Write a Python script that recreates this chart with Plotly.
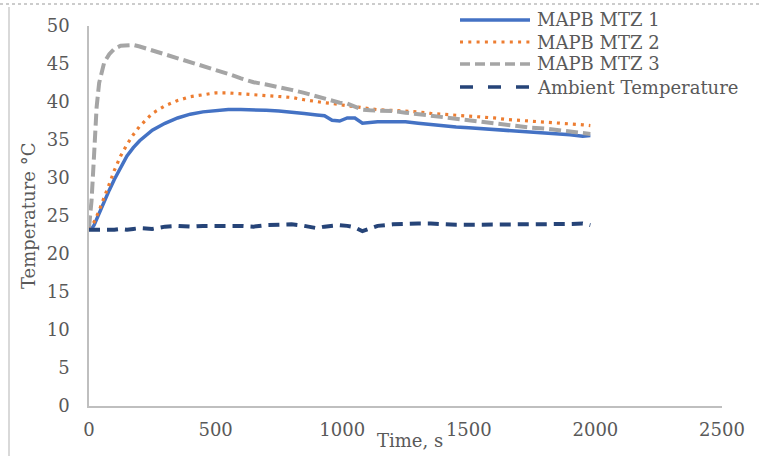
import plotly.graph_objects as go

# Time axis (s)
time_s = [0, 10, 20, 30, 40, 50, 60, 80, 100, 125, 150, 175, 200, 250, 300, 350, 400, 450,
          500, 550, 600, 650, 700, 750, 800, 850, 900, 930, 960, 990, 1020, 1050, 1080,
          1110, 1140, 1200, 1250, 1300, 1350, 1400, 1450, 1500, 1550, 1600, 1650, 1700,
          1750, 1800, 1850, 1900, 1950, 1980]

mtz1 = [23.2, 23.3, 23.8, 24.6, 25.4, 26.2, 27.0, 28.4, 29.8, 31.4, 32.9, 34.0, 34.9, 36.3,
        37.2, 37.9, 38.4, 38.7, 38.9, 39.0, 39.0, 39.0, 38.9, 38.8, 38.7, 38.5, 38.3, 38.2,
        37.6, 37.5, 37.9, 37.9, 37.2, 37.3, 37.4, 37.4, 37.4, 37.2, 37.0, 36.9, 36.7, 36.6,
        36.5, 36.4, 36.3, 36.2, 36.0, 35.9, 35.8, 35.7, 35.5, 35.6]

mtz2 = [23.2, 23.6, 24.2, 24.9, 25.7, 26.6, 27.4, 29.2, 31.0, 32.9, 34.4, 35.7, 36.8, 38.5,
        39.5, 40.2, 40.7, 41.0, 41.2, 41.2, 41.1, 41.0, 40.9, 40.8, 40.6, 40.3, 40.0, 39.9,
        39.8, 39.6, 39.5, 39.4, 39.2, 39.1, 39.0, 38.9, 38.8, 38.7, 38.5, 38.4, 38.3, 38.1,
        38.0, 37.9, 37.7, 37.6, 37.5, 37.3, 37.2, 37.1, 37.0, 36.9]

mtz3 = [23.5, 27.0, 33.0, 39.3, 42.5, 44.0, 45.2, 46.3, 47.0, 47.4, 47.5, 47.5, 47.3, 46.8,
        46.3, 45.8, 45.3, 44.8, 44.3, 43.7, 43.1, 42.6, 42.3, 42.0, 41.6, 41.2, 40.7, 40.4,
        40.1, 39.9, 39.8, 39.4, 39.0, 38.9, 38.9, 38.8, 38.6, 38.4, 38.1, 37.9, 37.7, 37.5,
        37.4, 37.2, 37.0, 36.8, 36.6, 36.5, 36.3, 36.1, 35.9, 35.8]

ambient = [23.2, 23.2, 23.2, 23.1, 23.2, 23.2, 23.2, 23.1, 23.2, 23.3, 23.2, 23.3, 23.4, 23.3,
           23.6, 23.7, 23.6, 23.7, 23.65, 23.7, 23.7, 23.6, 23.8, 23.9, 23.9, 23.7, 23.4, 23.6,
           23.7, 23.8, 23.7, 23.5, 23.0, 23.3, 23.7, 23.9, 24.0, 24.0, 24.0, 23.9, 23.85, 23.85,
           23.85, 23.9, 23.95, 23.9, 23.9, 23.85, 23.85, 23.95, 24.0, 23.8]

series_names = ["MAPB MTZ 1", "MAPB MTZ 2", "MAPB MTZ 3", "Ambient Temperature"]
x_ticks = [0, 500, 1000, 1500, 2000, 2500]
y_ticks = [0, 5, 10, 15, 20, 25, 30, 35, 40, 45, 50]

FONT = "DejaVu Serif"
TXT = "#595959"

# plot area in pixels: left 89, right 722, top 26, bottom 406
PL, PR, PT, PB = 89, 722, 26, 406
def px(x):
    return (x - PL) / (PR - PL)
def py(y):
    return (PB - y) / (PB - PT)

styles = [
    dict(color="#4472C4", width=3.5, dash="solid"),
    dict(color="#ED7D31", width=3.2, dash="3px,5px"),
    dict(color="#A5A5A5", width=4, dash="12px,5px"),
    dict(color="#264478", width=4, dash="11px,7px"),
]
legend_styles = [
    dict(color="#4472C4", width=3.5, dash="solid"),
    dict(color="#ED7D31", width=3, dash="3px,5.3px"),
    dict(color="#A5A5A5", width=3.5, dash="10px,5px"),
    dict(color="#264478", width=3.5, dash="13px,15px"),
]

fig = go.Figure()
for name, vals, st in zip(series_names, [mtz1, mtz2, mtz3, ambient], styles):
    fig.add_trace(go.Scatter(x=time_s, y=vals, name=name, mode="lines",
                             line=st, showlegend=False))

axis_common = dict(showgrid=False, zeroline=False, showline=True, linecolor="#BFBFBF",
                   linewidth=1.5, ticks="", tickfont=dict(family=FONT, size=18, color=TXT))

fig.update_xaxes(range=[0, 2500], tickvals=x_ticks, ticklabelstandoff=7, **axis_common)
fig.update_yaxes(range=[0, 50], tickvals=y_ticks, ticklabelstandoff=14, **axis_common)

annotations = [
    dict(text="Time, s", xref="paper", yref="paper", x=px(410), y=py(440),
         xanchor="center", yanchor="middle", showarrow=False,
         font=dict(family=FONT, size=18, color=TXT)),
    dict(text="Temperature °C", xref="paper", yref="paper", x=px(28), y=py(216),
         xanchor="center", yanchor="middle", showarrow=False, textangle=-90,
         font=dict(family=FONT, size=18, color=TXT)),
]
shapes = [
    dict(type="line", xref="paper", yref="paper", x0=px(9), x1=px(9),
         y0=py(7), y1=py(460), line=dict(color="#D9D9D9", width=2)),
    dict(type="line", xref="paper", yref="paper", x0=px(0), x1=px(761),
         y0=py(4), y1=py(4), line=dict(color="#999999", width=1, dash="dot")),
]

# legend (drawn as keys + labels)
legend_rows = [20, 42, 64, 87]
for name, st, ry in zip(series_names, legend_styles, legend_rows):
    shapes.append(dict(type="line", xref="paper", yref="paper", x0=px(460), x1=px(530),
                       y0=py(ry), y1=py(ry), line=st))
    annotations.append(dict(text=name, xref="paper", yref="paper", x=px(535), y=py(ry),
                            xanchor="left", yanchor="middle", showarrow=False,
                            font=dict(family=FONT, size=18, color=TXT)))

fig.update_layout(
    width=761, height=456,
    margin=dict(l=PL, r=761 - PR, t=PT, b=456 - PB, autoexpand=False),
    paper_bgcolor="white", plot_bgcolor="white",
    showlegend=False,
    annotations=annotations,
    shapes=shapes,
)

fig.write_html("out.html", config={"displayModeBar": False},
               post_script="document.body.style.margin='0';document.body.style.overflow='hidden';")
